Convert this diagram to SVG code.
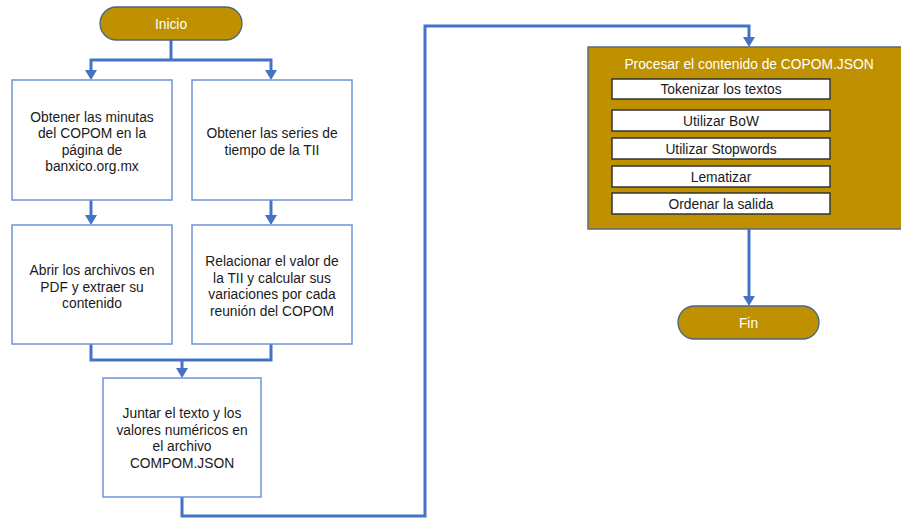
<svg xmlns="http://www.w3.org/2000/svg" width="901" height="518" viewBox="0 0 901 518">
  <defs>
    <style>
      text { font-family: "Liberation Sans", Arial, sans-serif; font-size: 13.8px; text-anchor: middle; fill: #1a1a1a; }
      .wt { fill: #ffffff; }
      .box { fill: #ffffff; stroke: #6F94D6; stroke-width: 1.5; }
      .pill { fill: #BF9000; stroke: #4A6484; stroke-width: 1.3; }
      .group { fill: #BF9000; stroke: #5A6B80; stroke-width: 1.5; }
      .inner { fill: #ffffff; stroke: #333333; stroke-width: 1.5; }
      .con { fill: none; stroke: #4472C4; stroke-width: 3; }
      .head { fill: #4472C4; }
    </style>
  </defs>

  <g id="connectors">
    <!-- Inicio splits into two branches -->
    <polyline class="con" points="171,40 171,60"/>
    <polyline class="con" points="91,71 91,60 271,60 271,71"/>
    <polyline class="con" points="91,200 91,216"/>
    <polyline class="con" points="271,200 271,216"/>
    <!-- merge -->
    <polyline class="con" points="91,344 91,360 271,360 271,344"/>
    <polyline class="con" points="182,360 182,369"/>
    <!-- long route to the processing block -->
    <polyline class="con" points="182,497 182,516 425,516 425,26 749,26 749,38"/>
    <polyline class="con" points="749,229 749,296"/>
    <!-- arrowheads -->
    <path class="head" d="M85,70 L97,70 L91,80 Z"/>
    <path class="head" d="M265,70 L277,70 L271,80 Z"/>
    <path class="head" d="M85,215 L97,215 L91,225 Z"/>
    <path class="head" d="M265,215 L277,215 L271,225 Z"/>
    <path class="head" d="M176,368 L188,368 L182,378 Z"/>
    <path class="head" d="M743,37 L755,37 L749,47 Z"/>
    <path class="head" d="M743,296 L755,296 L749,306 Z"/>
  </g>

  <g id="inicio">
    <rect class="pill" x="100" y="7" width="142" height="33" rx="16.5"/>
    <text class="wt" x="171" y="28.5">Inicio</text>
  </g>

  <g id="obtener-minutas">
    <rect class="box" x="12" y="80" width="160" height="120"/>
    <text x="92" y="122">Obtener las minutas</text>
    <text x="92" y="138">del COPOM en la</text>
    <text x="92" y="154.5">página de</text>
    <text x="92" y="171">banxico.org.mx</text>
  </g>

  <g id="obtener-series">
    <rect class="box" x="192" y="80" width="160" height="120"/>
    <text x="272" y="138">Obtener las series de</text>
    <text x="272" y="154.5">tiempo de la TII</text>
  </g>

  <g id="abrir-pdf">
    <rect class="box" x="12" y="225" width="160" height="119"/>
    <text x="92" y="275">Abrir los archivos en</text>
    <text x="92" y="291.5">PDF y extraer su</text>
    <text x="92" y="308">contenido</text>
  </g>

  <g id="relacionar">
    <rect class="box" x="192" y="225" width="160" height="119"/>
    <text x="272" y="266">Relacionar el valor de</text>
    <text x="272" y="282.5">la TII y calcular sus</text>
    <text x="272" y="299">variaciones por cada</text>
    <text x="272" y="315.5">reunión del COPOM</text>
  </g>

  <g id="juntar">
    <rect class="box" x="103" y="378" width="158" height="119"/>
    <text x="182" y="418">Juntar el texto y los</text>
    <text x="182" y="434.5">valores numéricos en</text>
    <text x="182" y="451">el archivo</text>
    <text x="182" y="467.5">COMPOM.JSON</text>
  </g>

  <g id="procesar">
    <rect class="group" x="588" y="47" width="322" height="182"/>
    <text class="wt" x="749" y="68.5">Procesar el contenido de COPOM.JSON</text>
    <rect class="inner" x="612" y="79" width="218" height="20"/>
    <text x="721" y="94">Tokenizar los textos</text>
    <rect class="inner" x="612" y="110" width="218" height="21"/>
    <text x="721" y="125.5">Utilizar BoW</text>
    <rect class="inner" x="612" y="138" width="218" height="21"/>
    <text x="721" y="153.5">Utilizar Stopwords</text>
    <rect class="inner" x="612" y="166" width="218" height="21"/>
    <text x="721" y="181.5">Lematizar</text>
    <rect class="inner" x="612" y="193" width="218" height="21"/>
    <text x="721" y="208.5">Ordenar la salida</text>
  </g>

  <g id="fin">
    <rect class="pill" x="678" y="306" width="141" height="33" rx="16.5"/>
    <text class="wt" x="748.5" y="327.5">Fin</text>
  </g>
</svg>
